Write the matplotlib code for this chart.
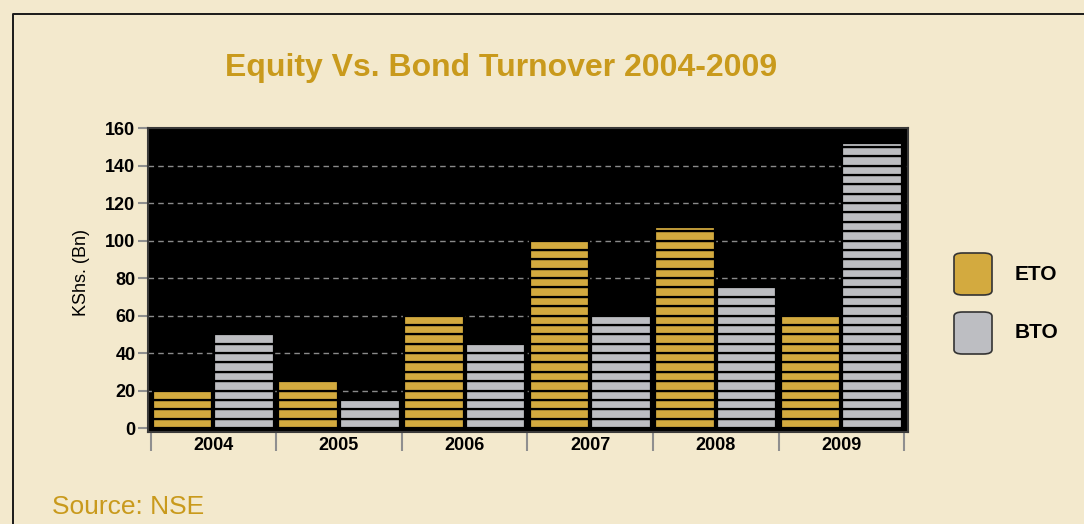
import numpy as np
import matplotlib.pyplot as plt
from matplotlib.patches import FancyBboxPatch
from matplotlib.lines import Line2D

years = ['2004', '2005', '2006', '2007', '2008', '2009']
eto = [20, 25, 60, 100, 107, 60]
bto = [50, 15, 45, 60, 75, 152]
yticks = [0, 20, 40, 60, 80, 100, 120, 140, 160]

bg = '#F3E9CD'
gold = '#D3AA3F'
grey = '#BDBEC2'
title_col = '#C99A1C'
narrow = ['Liberation Sans Narrow', 'Liberation Sans', 'DejaVu Sans']

fig = plt.figure(figsize=(10.84, 5.24), dpi=100, facecolor=bg)
W, H = 1084, 524

# outer frame (top and left edges visible)
fig.add_artist(Line2D([13 / W, 13 / W, 1.0], [0.0, 1 - 14 / H, 1 - 14 / H],
                      color='#1a1a1a', lw=1.4))

ax = fig.add_axes([148 / W, 1 - 432 / H, 760 / W, 304 / H])
ax.set_facecolor('black')
ax.set_xlim(-0.52, 5.53)
ax.set_ylim(-2.1, 160)


def brick_bar(x, value, color):
    # bars drawn as a stack of 5-unit bricks
    b = 0
    while b < value:
        h = min(5, value - b)
        ax.bar(x, h, bottom=b, width=0.475, color=color, edgecolor='black',
               linewidth=1.6, zorder=3)
        b += 5


x = np.arange(len(years))
for i in range(len(years)):
    brick_bar(x[i] - 0.245, eto[i], gold)
    brick_bar(x[i] + 0.245, bto[i], grey)

ax.set_yticks(yticks)
ax.set_yticklabels([str(t) for t in yticks], family=narrow, fontweight='bold', fontsize=13)
for t in yticks[1:-1]:
    ax.axhline(t, color='#8a8a8a', lw=1, ls=(0, (4, 3)), zorder=1)

ax.set_xticks(np.arange(-0.5, 6, 1))
ax.set_xticklabels([])
ax.tick_params(axis='x', length=14, width=1.5, color='#8f8f8f', direction='out')
ax.tick_params(axis='y', length=7, width=1.5, color='#8f8f8f', pad=2)
for i, yr in enumerate(years):
    ax.text(x[i], -5, yr, ha='center', va='top', family=narrow, fontweight='bold',
            fontsize=13)
for s in ax.spines.values():
    s.set_color('#3a3a3a')
    s.set_linewidth(1.5)

ax.set_ylabel('KShs. (Bn)', family=['Liberation Sans', 'DejaVu Sans'], fontsize=13)
ax.yaxis.set_label_coords(-0.076, 0.526)

fig.text(501 / W, 1 - 68 / H, 'Equity Vs. Bond Turnover 2004-2009', ha='center', va='center',
         family=['Liberation Sans', 'DejaVu Sans'], fontweight='bold', fontsize=23, color=title_col)
fig.text(52 / W, 1 - 507 / H, 'Source: NSE', ha='left', va='center',
         family=['Liberation Sans', 'DejaVu Sans'], fontsize=19, color=title_col)

# legend
for (label, col, yc) in [('ETO', gold, 274), ('BTO', grey, 333)]:
    p = FancyBboxPatch((954 / W, 1 - (yc + 21) / H), 38 / W, 42 / H,
                       boxstyle='round,pad=0,rounding_size=0.008',
                       transform=fig.transFigure, facecolor=col, edgecolor='#333333', lw=1.2)
    fig.add_artist(p)
    fig.text(1015 / W, 1 - yc / H, label, ha='left', va='center', family=narrow,
             fontweight='bold', fontsize=15)

fig.savefig('out.png', dpi=100, facecolor=bg)
